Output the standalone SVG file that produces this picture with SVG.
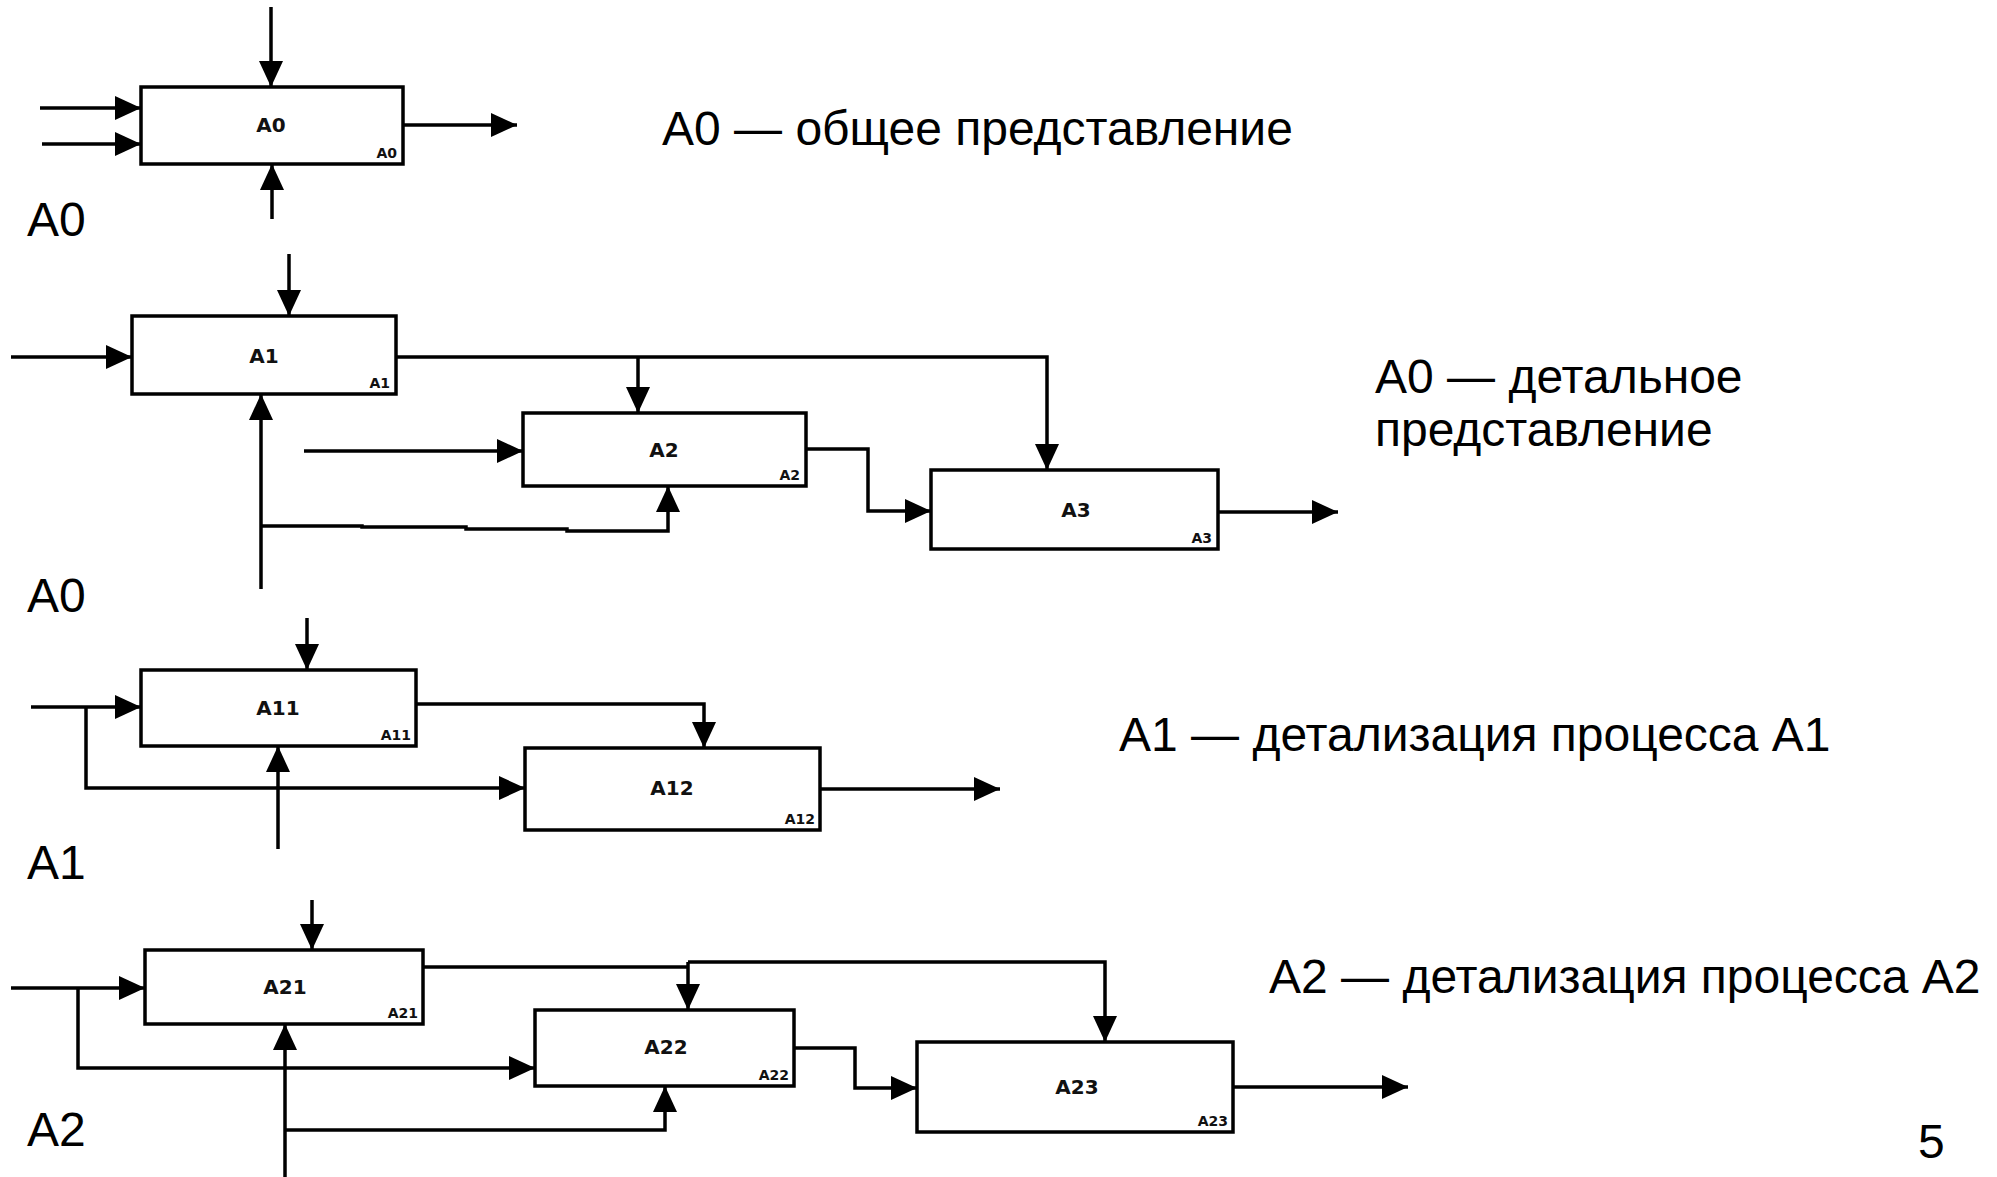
<svg xmlns="http://www.w3.org/2000/svg" width="1997" height="1177" viewBox="0 0 1997 1177">
<defs>
<marker id="ah" markerUnits="userSpaceOnUse" markerWidth="27" markerHeight="26" refX="26" refY="13" orient="auto"><path d="M0,1 L26,13 L0,25 z" fill="#000"/></marker>
<style>
.box{fill:#fff;stroke:#000;stroke-width:3.5}
.c{fill:none;stroke:#000;stroke-width:3.5}
.a{marker-end:url(#ah)}
.lbl{font-family:"DejaVu Sans","Liberation Sans",sans-serif;font-weight:bold;font-size:20px;text-anchor:middle;fill:#111}
.num{font-family:"DejaVu Sans","Liberation Sans",sans-serif;font-weight:bold;font-size:14px;text-anchor:end;fill:#111}
.big{font-family:"Liberation Sans",Arial,sans-serif;font-size:48px;fill:#000}
</style>
</defs>
<rect width="1997" height="1177" fill="#fff"/>

<g id="connectors">
<!-- Row A0 -->
<path class="c a" d="M271,7 V87"/>
<path class="c a" d="M40,108 H141"/>
<path class="c a" d="M42,144 H141"/>
<path class="c a" d="M403,125 H517"/>
<path class="c a" d="M272,219 V164"/>
<!-- Row A0 detail -->
<path class="c a" d="M289,254 V316"/>
<path class="c a" d="M11,357 H132"/>
<path class="c a" d="M395,357 H1047 V470"/>
<path class="c a" d="M638,357 V413"/>
<path class="c a" d="M304,451 H523"/>
<path class="c a" d="M261,589 V394"/>
<path class="c a" d="M261,526 H362 V527 H466 V529 H567 V531 H668 V486"/>
<path class="c a" d="M806,449 H868 V511 H931"/>
<path class="c a" d="M1218,512 H1338"/>
<!-- Row A1 -->
<path class="c a" d="M307,618 V670"/>
<path class="c a" d="M31,707 H141"/>
<path class="c a" d="M86,707 V788 H525"/>
<path class="c a" d="M416,704 H704 V748"/>
<path class="c a" d="M278,849 V746"/>
<path class="c a" d="M820,789 H1000"/>
<!-- Row A2 -->
<path class="c a" d="M312,900 V950"/>
<path class="c a" d="M11,988 H145"/>
<path class="c a" d="M78,988 V1068 H535"/>
<path class="c" d="M423,967 H688"/>
<path class="c a" d="M688,962 V1010"/>
<path class="c a" d="M688,962 H1105 V1042"/>
<path class="c a" d="M794,1048 H855 V1088 H917"/>
<path class="c a" d="M1233,1087 H1408"/>
<path class="c a" d="M285,1177 V1024"/>
<path class="c a" d="M285,1130 H665 V1086"/>
</g>

<g id="nA0"><rect class="box" x="141" y="87" width="262" height="77"/><text class="lbl" x="271" y="132">A0</text><text class="num" x="397" y="158">A0</text></g>
<g id="nA1"><rect class="box" x="132" y="316" width="264" height="78"/><text class="lbl" x="264" y="363">A1</text><text class="num" x="390" y="388">A1</text></g>
<g id="nA2"><rect class="box" x="523" y="413" width="283" height="73"/><text class="lbl" x="664" y="457">A2</text><text class="num" x="800" y="480">A2</text></g>
<g id="nA3"><rect class="box" x="931" y="470" width="287" height="79"/><text class="lbl" x="1076" y="517">A3</text><text class="num" x="1212" y="543">A3</text></g>
<g id="nA11"><rect class="box" x="141" y="670" width="275" height="76"/><text class="lbl" x="278" y="715">A11</text><text class="num" x="411" y="740">A11</text></g>
<g id="nA12"><rect class="box" x="525" y="748" width="295" height="82"/><text class="lbl" x="672" y="795">A12</text><text class="num" x="815" y="824">A12</text></g>
<g id="nA21"><rect class="box" x="145" y="950" width="278" height="74"/><text class="lbl" x="285" y="994">A21</text><text class="num" x="418" y="1018">A21</text></g>
<g id="nA22"><rect class="box" x="535" y="1010" width="259" height="76"/><text class="lbl" x="666" y="1054">A22</text><text class="num" x="789" y="1080">A22</text></g>
<g id="nA23"><rect class="box" x="917" y="1042" width="316" height="90"/><text class="lbl" x="1077" y="1094">A23</text><text class="num" x="1228" y="1126">A23</text></g>

<g id="labels">
<text class="big" x="27" y="236">A0</text>
<text class="big" x="27" y="612">A0</text>
<text class="big" x="27" y="879">A1</text>
<text class="big" x="27" y="1146">A2</text>
<text class="big" x="662" y="145">A0 — общее представление</text>
<text class="big" x="1375" y="393">A0 — детальное</text>
<text class="big" x="1375" y="446">представление</text>
<text class="big" x="1119" y="751">A1 — детализация процесса A1</text>
<text class="big" x="1269" y="993">A2 — детализация процесса A2</text>
<text class="big" x="1918" y="1158">5</text>
</g>
</svg>
